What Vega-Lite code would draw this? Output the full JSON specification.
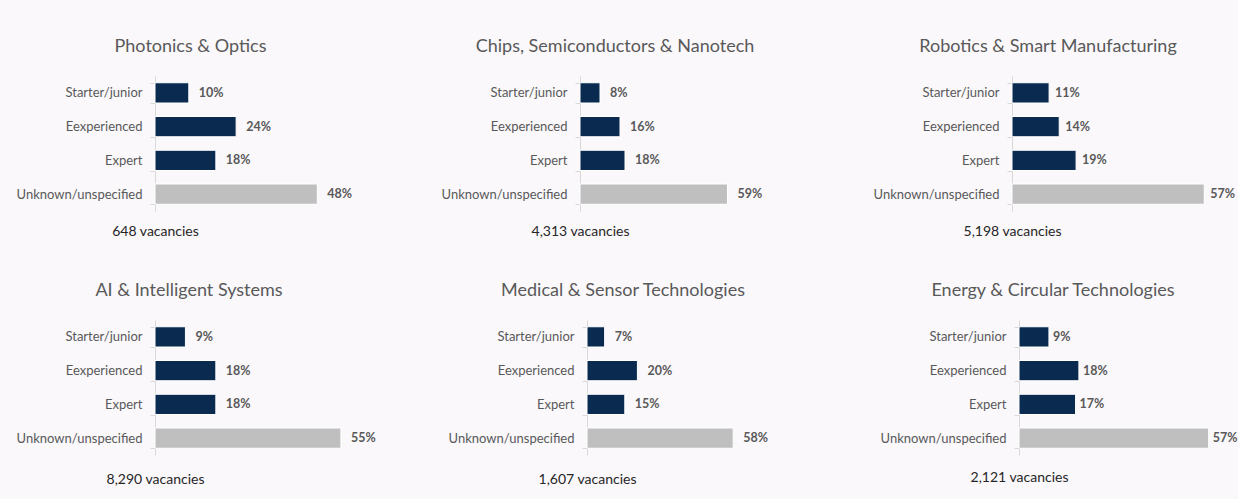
{
  "$schema": "https://vega.github.io/schema/vega-lite/v6.json",
  "background": "#faf8fb",
  "padding": {"left": 16, "top": 38, "right": 0, "bottom": 13},
  "bounds": "flush",
  "spacing": 244,
  "config": {
    "font": "Lato",
    "view": {"stroke": null},
    "title": {"font": "Lato", "fontSize": 18, "fontWeight": "normal", "color": "#595959", "anchor": "middle", "offset": 14, "frame": "group"},
    "axisY": {"title": null, "labelFont": "Lato", "labelFontSize": 13, "labelColor": "#595959", "domainColor": "#d9d9d9", "tickColor": "#d9d9d9", "tickSize": 5, "labelPadding": 8, "tickBand": "extent", "grid": false},
    "axisX": {"domain": false, "labels": false, "ticks": false, "grid": false, "titleX": 0, "titleAlign": "center", "titleBaseline": "middle", "titleFont": "Lato", "titleFontSize": 14, "titleFontWeight": "normal", "titleColor": "#262626"},
    "bar": {"stroke": "#ffffff", "strokeWidth": 1},
    "text": {"font": "Lato", "fontSize": 12.5, "fontWeight": "bold", "color": "#595959", "align": "left", "baseline": "middle"}
  },
  "datasets": {
    "jobs": [
      {"sector": "Photonics & Optics", "level": "Starter/junior", "pct": 0.10},
      {"sector": "Photonics & Optics", "level": "Eexperienced", "pct": 0.24},
      {"sector": "Photonics & Optics", "level": "Expert", "pct": 0.18},
      {"sector": "Photonics & Optics", "level": "Unknown/unspecified", "pct": 0.48},
      {"sector": "Chips, Semiconductors & Nanotech", "level": "Starter/junior", "pct": 0.08},
      {"sector": "Chips, Semiconductors & Nanotech", "level": "Eexperienced", "pct": 0.16},
      {"sector": "Chips, Semiconductors & Nanotech", "level": "Expert", "pct": 0.18},
      {"sector": "Chips, Semiconductors & Nanotech", "level": "Unknown/unspecified", "pct": 0.59},
      {"sector": "Robotics & Smart Manufacturing", "level": "Starter/junior", "pct": 0.11},
      {"sector": "Robotics & Smart Manufacturing", "level": "Eexperienced", "pct": 0.14},
      {"sector": "Robotics & Smart Manufacturing", "level": "Expert", "pct": 0.19},
      {"sector": "Robotics & Smart Manufacturing", "level": "Unknown/unspecified", "pct": 0.57},
      {"sector": "AI & Intelligent Systems", "level": "Starter/junior", "pct": 0.09},
      {"sector": "AI & Intelligent Systems", "level": "Eexperienced", "pct": 0.18},
      {"sector": "AI & Intelligent Systems", "level": "Expert", "pct": 0.18},
      {"sector": "AI & Intelligent Systems", "level": "Unknown/unspecified", "pct": 0.55},
      {"sector": "Medical & Sensor Technologies", "level": "Starter/junior", "pct": 0.07},
      {"sector": "Medical & Sensor Technologies", "level": "Eexperienced", "pct": 0.20},
      {"sector": "Medical & Sensor Technologies", "level": "Expert", "pct": 0.15},
      {"sector": "Medical & Sensor Technologies", "level": "Unknown/unspecified", "pct": 0.58},
      {"sector": "Energy & Circular Technologies", "level": "Starter/junior", "pct": 0.09},
      {"sector": "Energy & Circular Technologies", "level": "Eexperienced", "pct": 0.18},
      {"sector": "Energy & Circular Technologies", "level": "Expert", "pct": 0.17},
      {"sector": "Energy & Circular Technologies", "level": "Unknown/unspecified", "pct": 0.57}
    ]
  },
  "vconcat": [
    {
      "bounds": "flush",
      "spacing": 0,
      "hconcat": [
        {
          "width": 425, "height": 135,
          "title": {"text": "Photonics & Optics", "dx": -177},
          "data": {"name": "jobs"},
          "transform": [{"filter": "datum.sector === 'Photonics & Optics'"}],
          "encoding": {
            "y": {"field": "level", "type": "nominal", "sort": ["Starter/junior", "Eexperienced", "Expert", "Unknown/unspecified"], "scale": {"paddingInner": 0.4, "paddingOuter": 0.2}},
            "x": {"field": "pct", "type": "quantitative", "scale": {"domain": [0, 1.257]}, "axis": {"title": "648 vacancies", "titleY": 20}}
          },
          "layer": [
            {"mark": "bar", "encoding": {"color": {"condition": {"test": "datum.level === 'Unknown/unspecified'", "value": "#bfbfbf"}, "value": "#0b2a50"}}},
            {"mark": {"type": "text", "dx": 10}, "encoding": {"text": {"field": "pct", "type": "quantitative", "format": ".0%"}}}
          ]
        },
        {
          "width": 432, "height": 135,
          "title": {"text": "Chips, Semiconductors & Nanotech", "dx": -181},
          "data": {"name": "jobs"},
          "transform": [{"filter": "datum.sector === 'Chips, Semiconductors & Nanotech'"}],
          "encoding": {
            "y": {"field": "level", "type": "nominal", "sort": ["Starter/junior", "Eexperienced", "Expert", "Unknown/unspecified"], "scale": {"paddingInner": 0.4, "paddingOuter": 0.2}},
            "x": {"field": "pct", "type": "quantitative", "scale": {"domain": [0, 1.728]}, "axis": {"title": "4,313 vacancies", "titleY": 20}}
          },
          "layer": [
            {"mark": "bar", "encoding": {"color": {"condition": {"test": "datum.level === 'Unknown/unspecified'", "value": "#bfbfbf"}, "value": "#0b2a50"}}},
            {"mark": {"type": "text", "dx": 10}, "encoding": {"text": {"field": "pct", "type": "quantitative", "format": ".0%"}}}
          ]
        },
        {
          "width": 200, "height": 135,
          "title": {"text": "Robotics & Smart Manufacturing", "dx": -64},
          "data": {"name": "jobs"},
          "transform": [{"filter": "datum.sector === 'Robotics & Smart Manufacturing'"}],
          "encoding": {
            "y": {"field": "level", "type": "nominal", "sort": ["Starter/junior", "Eexperienced", "Expert", "Unknown/unspecified"], "scale": {"paddingInner": 0.4, "paddingOuter": 0.2}},
            "x": {"field": "pct", "type": "quantitative", "scale": {"domain": [0, 0.593]}, "axis": {"title": "5,198 vacancies", "titleY": 20}}
          },
          "layer": [
            {"mark": "bar", "encoding": {"color": {"condition": {"test": "datum.level === 'Unknown/unspecified'", "value": "#bfbfbf"}, "value": "#0b2a50"}}},
            {"mark": {"type": "text", "dx": 6}, "encoding": {"text": {"field": "pct", "type": "quantitative", "format": ".0%"}}}
          ]
        }
      ]
    },
    {
      "bounds": "flush",
      "spacing": 0,
      "hconcat": [
        {
          "width": 432, "height": 135,
          "title": {"text": "AI & Intelligent Systems", "dx": -182},
          "data": {"name": "jobs"},
          "transform": [{"filter": "datum.sector === 'AI & Intelligent Systems'"}],
          "encoding": {
            "y": {"field": "level", "type": "nominal", "sort": ["Starter/junior", "Eexperienced", "Expert", "Unknown/unspecified"], "scale": {"paddingInner": 0.4, "paddingOuter": 0.2}},
            "x": {"field": "pct", "type": "quantitative", "scale": {"domain": [0, 1.278]}, "axis": {"title": "8,290 vacancies", "titleY": 24}}
          },
          "layer": [
            {"mark": "bar", "encoding": {"color": {"condition": {"test": "datum.level === 'Unknown/unspecified'", "value": "#bfbfbf"}, "value": "#0b2a50"}}},
            {"mark": {"type": "text", "dx": 10}, "encoding": {"text": {"field": "pct", "type": "quantitative", "format": ".0%"}}}
          ]
        },
        {
          "width": 432, "height": 135,
          "title": {"text": "Medical & Sensor Technologies", "dx": -180},
          "data": {"name": "jobs"},
          "transform": [{"filter": "datum.sector === 'Medical & Sensor Technologies'"}],
          "encoding": {
            "y": {"field": "level", "type": "nominal", "sort": ["Starter/junior", "Eexperienced", "Expert", "Unknown/unspecified"], "scale": {"paddingInner": 0.4, "paddingOuter": 0.2}},
            "x": {"field": "pct", "type": "quantitative", "scale": {"domain": [0, 1.714]}, "axis": {"title": "1,607 vacancies", "titleY": 24}}
          },
          "layer": [
            {"mark": "bar", "encoding": {"color": {"condition": {"test": "datum.level === 'Unknown/unspecified'", "value": "#bfbfbf"}, "value": "#0b2a50"}}},
            {"mark": {"type": "text", "dx": 10}, "encoding": {"text": {"field": "pct", "type": "quantitative", "format": ".0%"}}}
          ]
        },
        {
          "width": 190, "height": 135,
          "title": {"text": "Energy & Circular Technologies", "dx": -61},
          "data": {"name": "jobs"},
          "transform": [{"filter": "datum.sector === 'Energy & Circular Technologies'"}],
          "encoding": {
            "y": {"field": "level", "type": "nominal", "sort": ["Starter/junior", "Eexperienced", "Expert", "Unknown/unspecified"], "scale": {"paddingInner": 0.4, "paddingOuter": 0.2}},
            "x": {"field": "pct", "type": "quantitative", "scale": {"domain": [0, 0.571]}, "axis": {"title": "2,121 vacancies", "titleY": 22}}
          },
          "layer": [
            {"mark": "bar", "encoding": {"color": {"condition": {"test": "datum.level === 'Unknown/unspecified'", "value": "#bfbfbf"}, "value": "#0b2a50"}}},
            {"mark": {"type": "text", "dx": 4}, "encoding": {"text": {"field": "pct", "type": "quantitative", "format": ".0%"}}}
          ]
        }
      ]
    }
  ]
}
